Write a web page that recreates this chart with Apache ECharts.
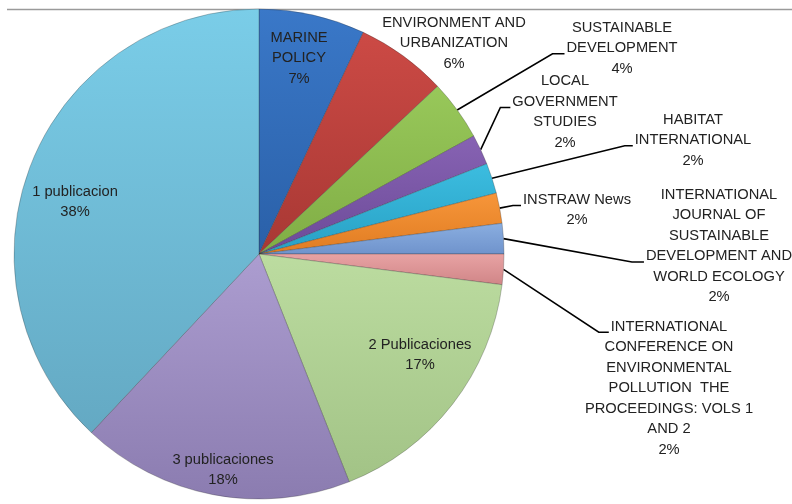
<!DOCTYPE html>
<html>
<head>
<meta charset="utf-8">
<script src="https://cdn.jsdelivr.net/npm/echarts@6/dist/echarts.min.js"></script>
<style>
html,body{margin:0;padding:0;background:#fff;}
#chart{width:792px;height:504px;}
</style>
</head>
<body>
<div id="chart"></div>
<script>
// ---- data ----
const categories = [
  'MARINE\nPOLICY',
  'ENVIRONMENT AND\nURBANIZATION',
  'SUSTAINABLE\nDEVELOPMENT',
  'LOCAL\nGOVERNMENT\nSTUDIES',
  'HABITAT\nINTERNATIONAL',
  'INSTRAW News',
  'INTERNATIONAL\nJOURNAL OF\nSUSTAINABLE\nDEVELOPMENT AND\nWORLD ECOLOGY',
  'INTERNATIONAL\nCONFERENCE ON\nENVIRONMENTAL\nPOLLUTION  THE\nPROCEEDINGS: VOLS 1\nAND 2',
  '2 Publicaciones',
  '3 publicaciones',
  '1 publicacion'
];
const percentValues = [7, 6, 4, 2, 2, 2, 2, 2, 17, 18, 38];

// ---- styling / layout (not data) ----
const sliceColors = [
  ['#3a78c8', '#2a60a8'],
  ['#cc4a45', '#a83834'],
  ['#98c85a', '#80ad45'],
  ['#8763b3', '#6c4a98'],
  ['#3cbde0', '#28a0c4'],
  ['#f7963a', '#e07c22'],
  ['#8aaee0', '#6f93cc'],
  ['#e8a3a4', '#d08587'],
  ['#bcdca0', '#a2c386'],
  ['#ac9dd0', '#8b7cb0'],
  ['#7acde8', '#64a9c3']
];
// label block centre (px), index of the line the leader attaches to, elbow length
const labelPlace = [
  {x: 299, y: 58},
  {x: 454, y: 43},
  {x: 622, y: 48, attach: 1, elbow: 12},
  {x: 565, y: 112, attach: 1, elbow: 10},
  {x: 693, y: 140, attach: 1, elbow: 8},
  {x: 577, y: 210, attach: 0, elbow: 8},
  {x: 719, y: 246, attach: 3, elbow: 12},
  {x: 669, y: 388, attach: 0, elbow: 10},
  {x: 420, y: 355},
  {x: 223, y: 470},
  {x: 75, y: 202}
];
const LH = 20.5;
const FONT_SIZE = 14.7;
const FONT = '"Liberation Sans", Arial, sans-serif';

const measureCtx = document.createElement('canvas').getContext('2d');
measureCtx.font = FONT_SIZE + 'px ' + FONT;
function lineWidth(text) { return measureCtx.measureText(text).width; }

const chart = echarts.init(document.getElementById('chart'), null, {renderer: 'canvas'});

const seriesData = categories.map((name, i) => ({
  name: name,
  value: percentValues[i],
  itemStyle: {
    color: new echarts.graphic.LinearGradient(0, 0, 0, 1, [
      {offset: 0, color: sliceColors[i][0]},
      {offset: 1, color: sliceColors[i][1]}
    ])
  },
  labelLine: {show: labelPlace[i].attach !== undefined}
}));

chart.setOption({
  backgroundColor: '#ffffff',
  animation: false,
  graphic: [{
    type: 'line',
    shape: {x1: 7, y1: 9.5, x2: 792, y2: 9.5},
    style: {stroke: '#9a9a9a', lineWidth: 1.5},
    z: 0
  }],
  series: [{
    type: 'pie',
    center: [259, 254],
    radius: [0, 245],
    startAngle: 90,
    clockwise: true,
    avoidLabelOverlap: false,
    data: seriesData,
    itemStyle: {
      borderColor: 'rgba(40,40,40,0.35)',
      borderWidth: 0.8
    },
    label: {
      show: true,
      position: 'outside',
      formatter: p => p.name + '\n' + p.value + '%',
      fontFamily: FONT,
      fontSize: FONT_SIZE,
      lineHeight: LH,
      color: '#222',
      align: 'center'
    },
    labelLine: {
      show: true,
      length: 20,
      length2: 20,
      lineStyle: {color: '#000', width: 1.6}
    },
    emphasis: {disabled: true},
    labelLayout: function (params) {
      const i = params.dataIndex;
      const pl = labelPlace[i];
      const h = params.labelRect.height;
      const out = {x: pl.x, y: pl.y, align: 'center', verticalAlign: 'middle'};
      if (pl.attach !== undefined && params.labelLinePoints) {
        const lines = (categories[i] + '\n' + percentValues[i] + '%').split('\n');
        const lw = lineWidth(lines[pl.attach]);
        const left = pl.x - lw / 2;
        const top = pl.y - h / 2;
        const ly = top + pl.attach * LH + LH * 0.78;
        const start = params.labelLinePoints[0];
        out.labelLinePoints = [
          [start[0], start[1]],
          [left - 2 - pl.elbow, ly],
          [left - 2, ly]
        ];
      }
      return out;
    }
  }]
});
</script>
</body>
</html>
